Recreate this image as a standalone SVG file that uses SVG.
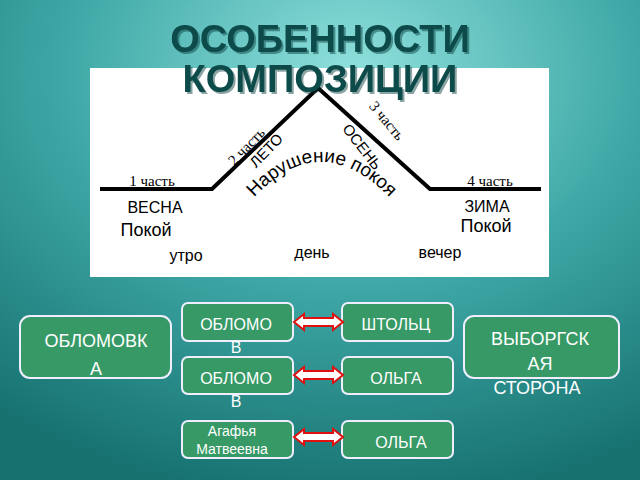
<svg xmlns="http://www.w3.org/2000/svg" width="640" height="480" viewBox="0 0 640 480">
<defs>
<radialGradient id="bg" cx="0.55" cy="0.15" r="0.9">
<stop offset="0" stop-color="#8fe0dc"/>
<stop offset="0.5" stop-color="#3ea8a6"/>
<stop offset="1" stop-color="#16716f"/>
</radialGradient>
<filter id="sh" x="-5%" y="-20%" width="110%" height="140%"><feDropShadow dx="2" dy="2" stdDeviation="0.5" flood-color="#0a3030" flood-opacity="0.45"/></filter>
<path id="arc" d="M250,202 Q320,122 394,202"/>
<g id="dbl"><path d="M0,0 L10,-8 L10,-4 L39,-4 L39,-8 L49,0 L39,8 L39,4 L10,4 L10,8 Z" fill="#fff" stroke="#e01010" stroke-width="2"/></g>
</defs>
<style>
.box{fill:#369966;stroke:#eef;stroke-width:2}
.bt{font-family:"Liberation Sans",Arial,sans-serif;fill:#fff;text-anchor:middle}
.d{font-family:"Liberation Sans Narrow","Liberation Sans",Arial,sans-serif;fill:#000;text-anchor:middle}
.n{font-family:"Liberation Serif",serif;fill:#000;text-anchor:middle}
.t{font-family:"Liberation Sans",Arial,sans-serif;font-weight:bold;font-size:38px;fill:#0d4b4b;text-anchor:middle}
</style>
<rect width="640" height="480" fill="url(#bg)"/>
<rect x="90" y="68" width="459" height="209" fill="#fff"/>
<g id="curve"><polyline points="100,189 212,189 318,88 430,189 541,189" fill="none" stroke="#000" stroke-width="4"/></g>
<text class="n" x="152" y="186" font-size="15">1 часть</text>
<text class="n" x="490" y="186" font-size="15">4 часть</text>
<text class="n" font-size="15" transform="translate(250,150) rotate(-46)">2 часть</text>
<text class="d" font-size="15" transform="translate(270,154) rotate(-46)">ЛЕТО</text>
<text class="n" font-size="15" transform="translate(383,124) rotate(50)">3 часть</text>
<text class="d" font-size="15" transform="translate(358,150) rotate(52)">ОСЕНЬ</text>
<text font-family="Liberation Sans,Arial,sans-serif" font-size="19" fill="#000"><textPath href="#arc" startOffset="50%" text-anchor="middle">Нарушение покоя</textPath></text>
<text class="d" x="155" y="213" font-size="16">ВЕСНА</text>
<text class="d" x="146" y="236" font-size="18">Покой</text>
<text class="d" x="487" y="212" font-size="16">ЗИМА</text>
<text class="d" x="486" y="232" font-size="18">Покой</text>
<text class="d" x="186" y="261" font-size="16">утро</text>
<text class="d" x="312" y="258" font-size="16">день</text>
<text class="d" x="440" y="258" font-size="16">вечер</text>
<g filter="url(#sh)">
<text class="t" x="320" y="52">ОСОБЕННОСТИ</text>
<text class="t" x="320" y="92">КОМПОЗИЦИИ</text>
</g>
<g id="n1"><rect class="box" x="20" y="316" width="151" height="62" rx="10"/><text class="bt" x="96" y="347" font-size="18">ОБЛОМОВК</text><text class="bt" x="96" y="375" font-size="18">А</text></g>
<g id="n2"><rect class="box" x="182" y="303" width="111" height="38" rx="6"/><text class="bt" x="236" y="330" font-size="16">ОБЛОМО</text><text class="bt" x="236" y="353" font-size="16">В</text></g>
<g id="n3"><rect class="box" x="342" y="303" width="111" height="38" rx="6"/><text class="bt" x="396" y="330" font-size="16">ШТОЛЬЦ</text></g>
<g id="n4"><rect class="box" x="182" y="357" width="111" height="37" rx="6"/><text class="bt" x="236" y="384" font-size="16">ОБЛОМО</text><text class="bt" x="236" y="407" font-size="16">В</text></g>
<g id="n5"><rect class="box" x="342" y="357" width="111" height="37" rx="6"/><text class="bt" x="396" y="384" font-size="16">ОЛЬГА</text></g>
<g id="n6"><rect class="box" x="182" y="421" width="111" height="37" rx="6"/><text class="bt" x="232" y="436" font-size="14">Агафья</text><text class="bt" x="232" y="454" font-size="14">Матвеевна</text></g>
<g id="n7"><rect class="box" x="342" y="421" width="111" height="37" rx="6"/><text class="bt" x="401" y="448" font-size="16">ОЛЬГА</text></g>
<g id="n8"><rect class="box" x="464" y="316" width="155" height="62" rx="10"/><text class="bt" x="540" y="345" font-size="18">ВЫБОРГСК</text><text class="bt" x="540" y="370" font-size="18">АЯ</text><text class="bt" x="537" y="394" font-size="18">СТОРОНА</text></g>
<g id="connectors">
<use href="#dbl" x="294" y="322"/>
<use href="#dbl" x="294" y="375"/>
<use href="#dbl" x="294" y="437"/>
</g>
</svg>
